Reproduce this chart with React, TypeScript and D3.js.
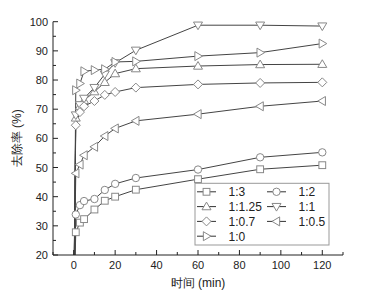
import React from "react";
import * as d3 from "d3";

const times = [0, 1, 3, 5, 10, 15, 20, 30, 60, 90, 120];
const s13 = [0, 27.8, 31.1, 32.3, 35.6, 38.6, 40.0, 42.4, 46.0, 49.4, 50.8];
const s12 = [0, 33.9, 37.1, 38.5, 39.2, 42.3, 44.4, 46.4, 49.3, 53.5, 55.2];
const s1125 = [0, 67.0, 71.0, 73.0, 76.0, 79.2, 82.2, 83.9, 84.8, 85.3, 85.4];
const s11 = [0, 68.0, 71.5, 73.7, 77.4, 82.0, 85.9, 90.2, 98.8, 98.8, 98.5];
const s107 = [0, 64.5, 69.0, 71.0, 72.8, 74.9, 75.9, 77.4, 78.5, 79.0, 79.2];
const s105 = [0, 48.0, 51.0, 54.2, 57.1, 60.8, 63.4, 66.0, 68.3, 71.0, 72.8];
const s10 = [0, 76.5, 78.8, 83.0, 83.4, 83.7, 86.2, 86.4, 88.2, 89.4, 92.5];

const seriesNames = ["1:3", "1:2", "1:1.25", "1:1", "1:0.7", "1:0.5", "1:0"];
const seriesValues = [s13, s12, s1125, s11, s107, s105, s10];
const markers = ["square", "circle", "up", "down", "diamond", "left", "right"];

const xTicks = [0, 20, 40, 60, 80, 100, 120];
const yTicks = [20, 30, 40, 50, 60, 70, 80, 90, 100];

const W = 371, H = 298;
const L = 53, R = 343, T = 21.7, B = 255;
const FONT = "'Liberation Sans', Arial, sans-serif";

function Marker({ type, x, y }: { type: string; x: number; y: number }) {
  const s = 3.4;
  const st = { fill: "#fff", stroke: "#888", strokeWidth: 1 };
  if (type === "square") return <rect x={x - s} y={y - s} width={2 * s} height={2 * s} {...st} />;
  if (type === "circle") return <circle cx={x} cy={y} r={s + 0.3} {...st} />;
  let pts: number[][] = [];
  const t = 4.5;
  if (type === "up") pts = [[x, y - t], [x + t, y + t * 0.7], [x - t, y + t * 0.7]];
  if (type === "down") pts = [[x, y + t], [x + t, y - t * 0.7], [x - t, y - t * 0.7]];
  if (type === "left") pts = [[x - t, y], [x + t * 0.7, y - t], [x + t * 0.7, y + t]];
  if (type === "right") pts = [[x + t, y], [x - t * 0.7, y - t], [x - t * 0.7, y + t]];
  if (type === "diamond") pts = [[x, y - t], [x + t, y], [x, y + t], [x - t, y]];
  return <polygon points={pts.map((p) => p.join(",")).join(" ")} {...st} />;
}

export default function App() {
  const x = d3.scaleLinear().domain([-10, 130]).range([L, R]);
  const y = d3.scaleLinear().domain([20, 100]).range([B, T]);
  const line = d3
    .line<number>()
    .x((_, i) => x(times[i]))
    .y((d) => y(d));
  const xMinor = d3.range(-10, 131, 10).filter((v) => !xTicks.includes(v));
  const yMinor = d3.range(25, 100, 10);

  const legRows = [
    [0, 1],
    [2, 3],
    [4, 5],
    [6],
  ];
  const lgX = 195, lgY = 183.3, lgW = 134, lgH = 61.7;

  return (
    <svg width={W} height={H} style={{ position: "absolute", left: 0, top: 0, background: "#fff" }}>
      <defs>
        <clipPath id="plot">
          <rect x={L} y={T - 6} width={R - L} height={B - T + 6} />
        </clipPath>
      </defs>
      <g clipPath="url(#plot)">
        {seriesValues.map((vals, si) => (
          <path key={si} d={line(vals) || ""} fill="none" stroke="#444" strokeWidth={1} />
        ))}
        {seriesValues.map((vals, si) =>
          vals.map((v, i) =>
            v >= 20 ? <Marker key={si + "-" + i} type={markers[si]} x={x(times[i])} y={y(v)} /> : null
          )
        )}
      </g>
      {/* axes */}
      <line x1={L} x2={R} y1={B} y2={B} stroke="#222" strokeWidth={1} />
      <line x1={L} x2={L} y1={T} y2={B} stroke="#222" strokeWidth={1} />
      {xTicks.map((t) => (
        <g key={"xt" + t}>
          <line x1={x(t)} x2={x(t)} y1={B} y2={B - 5} stroke="#222" />
          <text x={x(t)} y={269} textAnchor="middle" fontSize={11} fontFamily={FONT} fill="#222">
            {t}
          </text>
        </g>
      ))}
      {xMinor.map((t) => (
        <line key={"xm" + t} x1={x(t)} x2={x(t)} y1={B} y2={B - 3} stroke="#222" />
      ))}
      {yTicks.map((t) => (
        <g key={"yt" + t}>
          <line x1={L} x2={L + 5} y1={y(t)} y2={y(t)} stroke="#222" />
          <text x={48} y={y(t) + 4} textAnchor="end" fontSize={11} fontFamily={FONT} fill="#222">
            {t}
          </text>
        </g>
      ))}
      {yMinor.map((t) => (
        <line key={"ym" + t} x1={L} x2={L + 3} y1={y(t)} y2={y(t)} stroke="#222" />
      ))}
      <text x={(L + R) / 2} y={287} textAnchor="middle" fontSize={12} fontFamily={FONT} fill="#222">
        时间 (min)
      </text>
      <text
        transform={`translate(21, ${(T + B) / 2}) rotate(-90)`}
        textAnchor="middle"
        fontSize={12}
        fontFamily={FONT}
        fill="#222"
      >
        去除率 (%)
      </text>
      {/* legend */}
      <rect x={lgX} y={lgY} width={lgW} height={lgH} fill="#fff" stroke="#999" strokeWidth={1} />
      {legRows.map((row, ri) =>
        row.map((si, ci) => {
          const bx = lgX + 2 + ci * 70;
          const cy = lgY + 8.5 + ri * 14.8;
          return (
            <g key={"lg" + si}>
              <line x1={bx} x2={bx + 19} y1={cy} y2={cy} stroke="#333" />
              <Marker type={markers[si]} x={bx + 9.5} y={cy} />
              <text x={bx + 31.5} y={cy + 4.3} fontSize={12} fontFamily={FONT} fill="#222">
                {seriesNames[si]}
              </text>
            </g>
          );
        })
      )}
    </svg>
  );
}
